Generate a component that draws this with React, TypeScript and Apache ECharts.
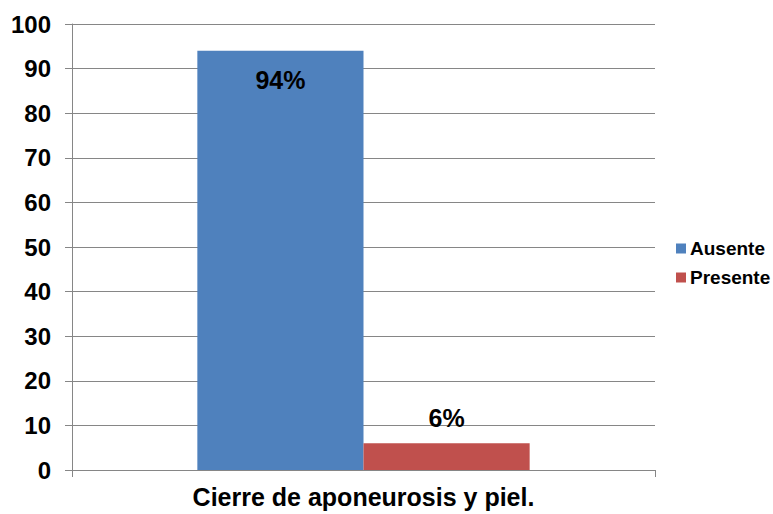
import React, { useEffect, useRef } from "react";
import * as echarts from "echarts";

const categories = ["Cierre de aponeurosis y piel."];
const ausente = [94];
const presente = [6];
const ausenteLabels = ["94%"];
const presenteLabels = ["6%"];
const yTicks = { min: 0, max: 100, interval: 10 };

export default function App() {
  const ref = useRef<HTMLDivElement>(null);
  useEffect(() => {
    const chart = echarts.init(ref.current!, null, { renderer: "svg" });
    const font = "'Liberation Sans', Arial, sans-serif";
    chart.setOption({
      animation: false,
      textStyle: { fontFamily: font },
      grid: { left: 72, right: 118, top: 24, bottom: 44, containLabel: false },
      legend: {
        orient: "vertical",
        left: 676,
        top: 239,
        padding: 0,
        itemWidth: 10,
        itemHeight: 10,
        itemGap: 10,
        icon: "rect",
        textStyle: { fontFamily: font, fontWeight: "bold", fontSize: 19, color: "#000", padding: [0, 0, 0, -1] },
        data: ["Ausente", "Presente"],
      },
      xAxis: {
        type: "category",
        data: categories,
        axisLine: { lineStyle: { color: "#868686" } },
        axisTick: { show: true, alignWithLabel: false, length: 7, lineStyle: { color: "#868686" } },
        axisLabel: { fontFamily: font, fontWeight: "bold", fontSize: 25, color: "#000", margin: 14 },
      },
      yAxis: {
        type: "value",
        min: yTicks.min,
        max: yTicks.max,
        interval: yTicks.interval,
        axisLine: { show: true, lineStyle: { color: "#868686" } },
        axisTick: { show: true, length: 7, lineStyle: { color: "#868686" } },
        splitLine: { lineStyle: { color: "#868686" } },
        axisLabel: { fontFamily: font, fontWeight: "bold", fontSize: 24, color: "#000", margin: 21 },
      },
      series: [
        {
          name: "Ausente",
          type: "bar",
          data: ausente,
          barGap: "0%",
          barCategoryGap: "43%",
          itemStyle: { color: "#4F81BD" },
          label: {
            show: true,
            position: "insideTop",
            distance: 17,
            formatter: (p: any) => ausenteLabels[p.dataIndex],
            fontFamily: font,
            fontWeight: "bold",
            fontSize: 25,
            color: "#000",
          },
        },
        {
          name: "Presente",
          type: "bar",
          data: presente,
          itemStyle: { color: "#C0504D" },
          label: {
            show: true,
            position: "top",
            distance: 13,
            formatter: (p: any) => presenteLabels[p.dataIndex],
            fontFamily: font,
            fontWeight: "bold",
            fontSize: 25,
            color: "#000",
          },
        },
      ],
    });
    return () => chart.dispose();
  }, []);
  return <div ref={ref} style={{ width: 773, height: 514, position: "absolute", left: 0, top: 0 }} />;
}
